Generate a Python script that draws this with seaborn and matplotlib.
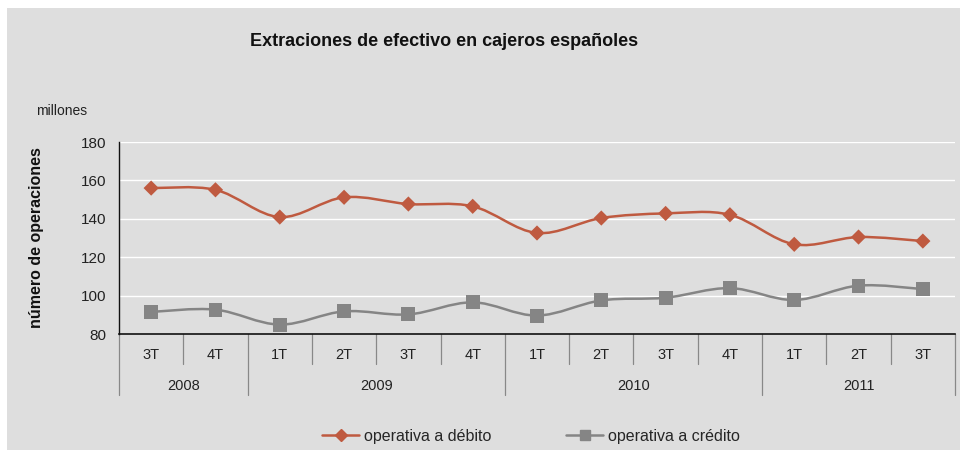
import numpy as np
import pandas as pd
import matplotlib
matplotlib.use("Agg")
import matplotlib.pyplot as plt
import seaborn as sns
from matplotlib.path import Path
from matplotlib.patches import PathPatch, Rectangle
from matplotlib.lines import Line2D
from matplotlib import font_manager

quarters = ["3T", "4T", "1T", "2T", "3T", "4T", "1T", "2T", "3T", "4T", "1T", "2T", "3T"]
years = ["2008", "2009", "2010", "2011"]
year_counts = [2, 4, 4, 3]
debito = [156.0, 155.1, 140.9, 151.2, 147.7, 146.5, 132.6, 140.4, 142.8, 142.1, 126.7, 130.5, 128.4]
credito = [91.5, 92.7, 84.9, 91.8, 90.2, 96.5, 89.6, 97.5, 98.9, 103.9, 97.7, 105.2, 103.4]
series_names = ["operativa a débito", "operativa a crédito"]
yticks = [80, 100, 120, 140, 160, 180]

BG = "#dedede"
RED = "#bf5a40"
GRAY = "#858585"

sns.set_theme(style="white")
names = {f.name for f in font_manager.fontManager.ttflist}
base_font = "Liberation Sans" if "Liberation Sans" in names else "DejaVu Sans"
narrow_font = "Liberation Sans Narrow" if "Liberation Sans Narrow" in names else base_font
plt.rcParams["font.family"] = [base_font, "DejaVu Sans"]

W, H = 960, 450
fig = plt.figure(figsize=(9.6, 4.5), dpi=100, facecolor="white")
fig.patches.append(Rectangle((7 / W, 0), 1 - 7 / W, 1 - 8 / H, transform=fig.transFigure,
                             facecolor=BG, edgecolor="none", zorder=-10))

ax_l, ax_r, ax_t, ax_b = 119, 955, 142, 334
ax = fig.add_axes([ax_l / W, 1 - ax_b / H, (ax_r - ax_l) / W, (ax_b - ax_t) / H])
ax.set_facecolor(BG)

n = len(quarters)
x = np.arange(n)
df = pd.DataFrame({"x": np.concatenate([x, x]),
                   "y": debito + credito,
                   "serie": [series_names[0]] * n + [series_names[1]] * n})


def smooth_path(xs, ys):
    pts = np.column_stack([xs, ys]).astype(float)
    verts = [pts[0]]
    codes = [Path.MOVETO]
    m = len(pts)
    for i in range(m - 1):
        p0 = pts[i - 1] if i > 0 else pts[i]
        p1 = pts[i]
        p2 = pts[i + 1]
        p3 = pts[i + 2] if i + 2 < m else pts[i + 1]
        c1 = p1 + (p2 - p0) / 6.0
        c2 = p2 - (p3 - p1) / 6.0
        verts += [c1, c2, p2]
        codes += [Path.CURVE4] * 3
    return Path(verts, codes)


for vals, col in [(debito, RED), (credito, GRAY)]:
    ax.add_patch(PathPatch(smooth_path(x, vals), facecolor="none", edgecolor=col, lw=1.8, zorder=3))

sns.scatterplot(data=df, x="x", y="y", hue="serie", style="serie",
                palette=[RED, GRAY], markers=["D", "s"], s=70,
                edgecolor="none", legend=False, ax=ax, zorder=4)
colls = ax.collections
if colls:
    sizes = np.where(df["serie"].values == series_names[0], 60, 100)
    colls[-1].set_sizes(sizes)

ax.set_xlim(-0.5, n - 0.5)
ax.set_ylim(80, 180)
ax.set_yticks(yticks)
ax.set_yticklabels([str(v) for v in yticks], fontsize=11, color="#222222")
ax.tick_params(axis="y", direction="out", length=5, width=0.8, color="#333333", pad=4)
ax.set_xticks([])
ax.set_xlabel("")
ax.set_ylabel("")
for v in yticks[1:]:
    ax.axhline(v, color="white", lw=1.0, zorder=1)
for s in ["top", "right"]:
    ax.spines[s].set_visible(False)
ax.spines["left"].set_color("#111111")
ax.spines["bottom"].set_color("#111111")
ax.spines["left"].set_linewidth(1.0)
ax.spines["bottom"].set_linewidth(1.2)

# multi-level category axis
trans = ax.get_xaxis_transform()
def fy(py):
    return 1 - (py - ax_t) / (ax_b - ax_t)

qy_label = fy(355)
yy_label = fy(386)
for i, q in enumerate(quarters):
    ax.text(i, qy_label, q, transform=trans, ha="center", va="center",
            fontsize=10.5, color="#222222", family=[narrow_font, "DejaVu Sans"], clip_on=False)
bounds = np.cumsum([0] + year_counts)
year_edges = set(bounds.tolist())
for b in range(n + 1):
    y_end = fy(395) if b in year_edges else fy(364)
    ax.add_line(Line2D([b - 0.5, b - 0.5], [0, y_end], transform=trans, color="#888888",
                       lw=0.9, clip_on=False))
for yr, a, b in zip(years, bounds[:-1], bounds[1:]):
    ax.text((a + b - 1) / 2, yy_label, yr, transform=trans, ha="center", va="center",
            fontsize=10.5, color="#222222", family=[narrow_font, "DejaVu Sans"], clip_on=False)

fig.text(444 / W, 1 - 42 / H, "Extraciones de efectivo en cajeros españoles", ha="center",
         va="center", fontsize=13, fontweight="bold", color="#111111")
fig.text(36 / W, 1 - 111 / H, "millones", ha="left", va="center", fontsize=10, color="#222222")
fig.text(37 / W, 1 - 238 / H, "número de operaciones", ha="center", va="center", rotation=90,
         fontsize=11.5, fontweight="bold", color="#111111")

handles = [Line2D([], [], color=RED, lw=1.8, marker="D", markersize=6),
           Line2D([], [], color=GRAY, lw=1.8, marker="s", markersize=7)]
leg = fig.legend(handles, series_names, loc="center", bbox_to_anchor=(531 / W, 1 - 436 / H),
                 ncol=2, frameon=False, handlelength=2.3, columnspacing=4.7,
                 handletextpad=0.3, prop={"family": [narrow_font, "DejaVu Sans"], "size": 11.5})

fig.savefig("out.png", dpi=100, facecolor="white")
